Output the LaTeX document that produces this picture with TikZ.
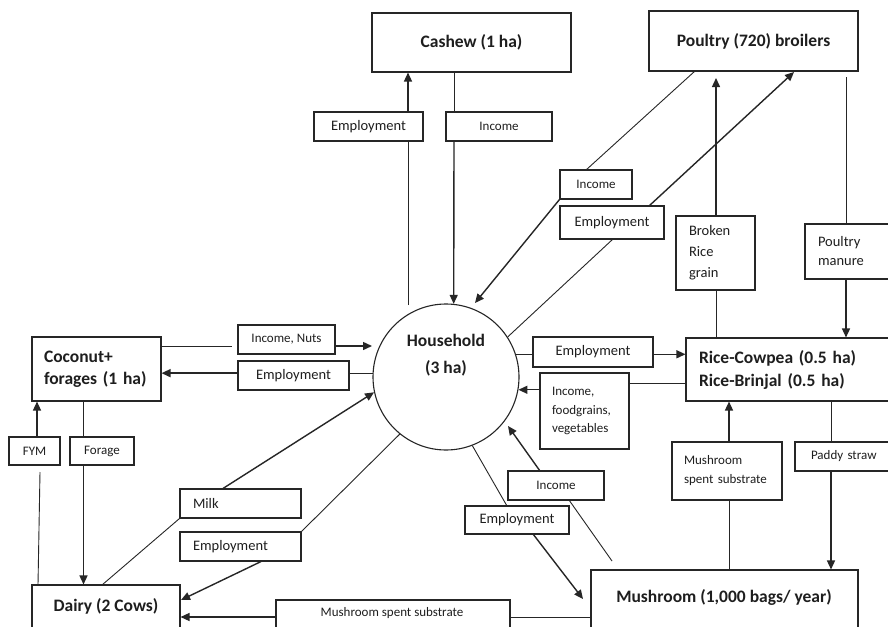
\documentclass[tikz,border=0pt]{standalone}
\usepackage{fontspec}
\setmainfont{Carlito}
\usetikzlibrary{arrows.meta}
\definecolor{linec}{HTML}{262626}
\definecolor{textc}{HTML}{1E1E1E}
\tikzset{
  bx/.style={draw=linec, line width=1.1pt, rectangle, inner sep=0pt, text=textc},
  ttl/.style={text=textc, inner sep=0pt, font=\bfseries\fontsize{17.5}{22}\selectfont},
  tbox/.style={bx, font=\bfseries\fontsize{17.5}{22}\selectfont},
  lab/.style={bx, font=\fontsize{14.5}{21}\selectfont},
  labs/.style={bx, font=\fontsize{13}{18.5}\selectfont},
  conn/.style={draw=linec, line width=0.9pt},
  arr/.style={draw=linec, line width=1.4pt, -{Triangle[length=9pt,width=8pt]}},
}
\begin{document}
\begin{tikzpicture}[x=1pt,y=-1pt]
\fill[white] (0,0) rectangle (888,626);
\useasboundingbox (0,0) rectangle (888,626);

% main boxes
\node[tbox, minimum width=199pt, minimum height=59pt] (cashew) at (471.5,42.5) {Cashew (1 ha)};
\node[tbox, minimum width=209pt, minimum height=60pt] (poultry) at (753.5,41) {Poultry (720) broilers};
\node[tbox, minimum width=129pt, minimum height=64pt, align=left, text width=105pt] (coconut) at (96.5,369) {Coconut+\\forages (1 ha)};
\node[tbox, minimum width=209pt, minimum height=63pt, align=left, text width=183pt, font=\bfseries\fontsize{17.5}{23}\selectfont] (rice) at (790.5,369.5) {Rice-Cowpea (0.5 ha)\\Rice-Brinjal (0.5 ha)};
\node[draw=linec, line width=1.1pt, circle, minimum size=146pt, inner sep=0pt] (hh) at (446,377) {};
\node[ttl, align=center, font=\bfseries\fontsize{17.5}{27}\selectfont] (hhtext) at (446,355.5) {Household\\(3 ha)};
\node[bx, minimum width=148pt, minimum height=65pt] (dairy) at (106,617.5) {};
\node[ttl] (dairytext) at (106,606) {Dairy (2 Cows)};
\node[bx, minimum width=267pt, minimum height=80pt] (mushroom) at (724.5,610) {};
\node[ttl] (mushtext) at (724,597) {Mushroom (1,000 bags/ year)};
\node[bx, minimum width=234pt, minimum height=50pt] (mssb) at (393,625) {};
\node[text=textc, inner sep=0pt, font=\fontsize{13}{18.5}\selectfont] (mssbtext) at (392,613) {Mushroom spent substrate};

% labels
\node[lab, minimum width=109pt, minimum height=29pt] (empc) at (368.5,126.5) {Employment};
\node[labs, minimum width=106pt, minimum height=29pt] (incc) at (499,126.5) {Income};
\node[labs, minimum width=72pt, minimum height=29pt] (incp) at (596,184.5) {Income};
\node[lab, minimum width=104pt, minimum height=33pt] (empp) at (612,222.5) {Employment};
\node[lab, minimum width=79pt, minimum height=74pt, align=left, text width=53pt] (broken) at (715.5,253) {Broken\\Rice\\grain};
\node[lab, minimum width=90pt, minimum height=55pt, align=left, text width=64pt, font=\fontsize{14.5}{19}\selectfont] (manure) at (850,251.5) {Poultry\\manure};
\node[labs, minimum width=97pt, minimum height=29pt] (incnuts) at (286.5,339.5) {Income, Nuts};
\node[lab, minimum width=111pt, minimum height=29pt] (empcoco) at (293.5,375.5) {Employment};
\node[lab, minimum width=120pt, minimum height=30pt] (emprice) at (593,352) {Employment};
\node[labs, minimum width=89pt, minimum height=76pt, align=left, text width=65pt] (incfood) at (584.5,411) {Income,\\foodgrains,\\vegetables};
\node[labs, minimum width=51pt, minimum height=28pt] (fym) at (34.5,451) {FYM};
\node[labs, minimum width=64pt, minimum height=28pt] (forage) at (102,451) {Forage};
\node[lab, minimum width=121pt, minimum height=29pt, align=left, text width=95pt] (milk) at (240.5,503.5) {Milk};
\node[lab, minimum width=121pt, minimum height=29pt, align=left, text width=95pt] (empdairy) at (240.5,546.5) {Employment};
\node[labs, minimum width=110pt, minimum height=58pt, align=left, text width=86pt, font=\fontsize{13}{19}\selectfont] (mssr) at (727,471) {Mushroom\\spent substrate};
\node[labs, minimum width=100pt, minimum height=29pt, align=left, text width=68pt] (paddy) at (845,456.5) {Paddy straw};
\node[labs, minimum width=96pt, minimum height=29pt] (incmush) at (556,485.5) {Income};
\node[lab, minimum width=104pt, minimum height=28pt] (empmush) at (517,520) {Employment};

% helper coordinates
\coordinate (e1) at (408,305);
\coordinate (e2) at (454,0);
\coordinate (p1) at (695,71);
\coordinate (p2) at (586,170);
\coordinate (p3) at (475,303);
\coordinate (q1) at (613,239);
\coordinate (q2) at (649,206);
\coordinate (q3) at (794,72);
\coordinate (b0) at (716,78);
\coordinate (m0) at (846,77);
\coordinate (n0) at (232,346);
\coordinate (n1) at (372,346);
\coordinate (f0) at (40,472);
\coordinate (f1) at (38,585);
\coordinate (fx) at (37,0);
\coordinate (gx) at (83.5,0);
\coordinate (d1) at (102,585);
\coordinate (mx) at (223,0);
\coordinate (ex) at (261,0);
\coordinate (dx) at (181,600);
\coordinate (r0) at (0,383);
\coordinate (sx) at (729,0);
\coordinate (px) at (831,0);
\coordinate (u0) at (612,561);
\coordinate (u1) at (569,500);
\coordinate (u2) at (540,471);
\coordinate (u3) at (508,426);
\coordinate (w1) at (507,506);
\coordinate (w2) at (533,534);
\coordinate (w3) at (583,599);
\coordinate (z0) at (0,617);

% cashew
\draw[conn] (e1) -- (e1 |- empc.south);
\draw[arr] (e1 |- empc.north) -- (e1 |- cashew.south);
\draw[conn] (e2 |- cashew.south) -- (e2 |- incc.north);
\draw[arr] (e2 |- incc.south) -- (hh.84);
% poultry
\draw[conn] (p1) -- (p2);
\draw[arr] (incp.south west) -- (p3);
\draw[conn] (hh.33) -- (q1);
\draw[arr] (q2) -- (q3);
\draw[conn] (b0 |- rice.north) -- (b0 |- broken.south);
\draw[arr] (b0 |- broken.north) -- (b0);
\draw[conn] (m0) -- (m0 |- manure.north);
\draw[arr] (m0 |- manure.south) -- (m0 |- rice.north);
% coconut
\draw[conn] (n0 -| coconut.east) -- (n0);
\draw[arr] (n0 -| incnuts.east) -- (n1);
\draw[conn] (hh.177) -- (hh.177 -| empcoco.east);
\draw[arr] (hh.177 -| empcoco.west) -- (hh.177 -| coconut.east);
\draw[conn] (f1) -- (f0);
\draw[arr] (fx |- fym.north) -- (fx |- coconut.south);
\draw[conn] (gx |- coconut.south) -- (gx |- forage.north);
\draw[arr] (gx |- forage.south) -- (gx |- dairy.north);
% dairy
\draw[conn] (d1) -- (milk.south west);
\draw[arr] (mx |- milk.north) -- (hh.192);
\draw[conn] (empdairy.north east) -- (hh.231);
\draw[arr] (ex |- empdairy.south) -- (dx);
% rice
\draw[conn] (hh.18) -- (hh.18 -| emprice.west);
\draw[arr] (hh.18 -| emprice.east) -- (hh.18 -| rice.west);
\draw[conn] (r0 -| rice.west) -- (r0 -| incfood.east);
\draw[arr] (hh.-10 -| incfood.west) -- (hh.-10);
\draw[conn] (sx |- mushroom.north) -- (sx |- mssr.south);
\draw[arr] (sx |- mssr.north) -- (sx |- rice.south);
\draw[conn] (px |- rice.south) -- (px |- paddy.north);
\draw[arr] (px |- paddy.south) -- (px |- mushroom.north);
% mushroom
\draw[conn] (u0) -- (u1);
\draw[arr] (u2) -- (u3);
\draw[conn] (hh.-69) -- (w1);
\draw[arr] (w2) -- (w3);
\draw[conn] (z0 -| mushroom.west) -- (z0 -| mssb.east);
\draw[arr] (z0 -| mssb.west) -- (z0 -| dairy.east);
\end{tikzpicture}
\end{document}
